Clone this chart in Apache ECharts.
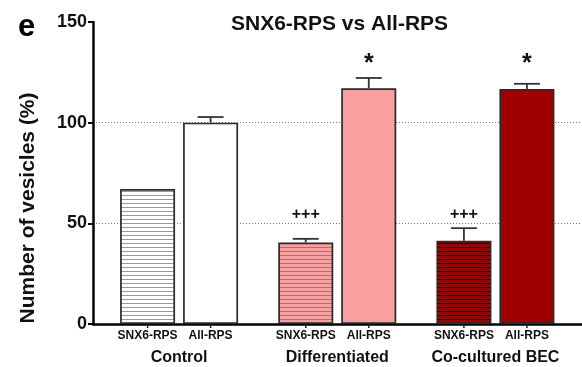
<!DOCTYPE html>
<html>
<head>
<meta charset="utf-8">
<script src="https://cdn.jsdelivr.net/npm/echarts@6/dist/echarts.min.js"></script>
<style>
  html, body { margin: 0; padding: 0; background: #fff; }
  #chart { width: 582px; height: 367px; }
</style>
</head>
<body>
<div id="chart"></div>
<script>
// ---- Data ----
const groups = ['Control', 'Differentiated', 'Co-cultured BEC'];
const seriesNames = ['SNX6-RPS', 'All-RPS'];
const snx6Values = [67.0, 40.5, 41.3];
const snx6Errors = [0, 1.8, 6.3];
const allValues = [100, 117.1, 116.7];
const allErrors = [2.8, 5.1, 2.6];
const snx6Marks = ['', '+++', '+++'];
const allMarks = ['', '*', '*'];
const yTicks = [0, 50, 100, 150];
const chartTitle = 'SNX6-RPS vs All-RPS';
const panelLabel = 'e';
const yAxisTitle = 'Number of vesicles (%)';

// ---- Styles ----
const FONT = 'Liberation Sans, Arial, sans-serif';
const BAR_W = 55;
const GAP_PX = 8;
const fills = ['#ffffff', '#f9a0a0', '#a00000'];
const hatchLines = ['#9a9a9a', '#b86a6a', '#3a0000'];
const borderCol = '#2a2a2a';

function hatch(fill, line) {
  const c = document.createElement('canvas');
  c.width = 8; c.height = 4;
  const ctx = c.getContext('2d');
  ctx.fillStyle = fill; ctx.fillRect(0, 0, 8, 4);
  ctx.fillStyle = line; ctx.fillRect(0, 3, 8, 1);
  return { image: c, repeat: 'repeat' };
}

const chart = echarts.init(document.getElementById('chart'), null, { renderer: 'canvas' });

const snx6Data = snx6Values.map((v, i) => ({
  value: v,
  itemStyle: { color: hatch(fills[i], hatchLines[i]), borderColor: borderCol, borderWidth: 1.7 }
}));
const allData = allValues.map((v, i) => ({
  value: v,
  itemStyle: { color: fills[i], borderColor: borderCol, borderWidth: 1.7 }
}));

const MARK_LEVEL = [54.2, 129.3];
function makeExtra(values, errors, marks, k) {
  return {
    type: 'custom',
    xAxisIndex: 1, yAxisIndex: 1,
    z: 5,
    silent: true,
    data: values.map((v, i) => [i, v, errors[i]]),
    renderItem: function (params, api) {
      const x = api.value(0), v = api.value(1), e = api.value(2);
      const off = (k === 0 ? -1 : 1) * (BAR_W + GAP_PX) / 2;
      const base = api.coord([x, v]);
      const cx = base[0] + off;
      const y0 = api.coord([x, 0])[1];
      const children = [];
      children.push({ type: 'line', shape: { x1: cx, y1: y0, x2: cx, y2: y0 + 4 },
        style: { stroke: '#222', lineWidth: 1.5 } });
      if (e > 0) {
        const top = api.coord([x, v + e])[1];
        children.push({ type: 'line', shape: { x1: cx, y1: base[1], x2: cx, y2: top },
          style: { stroke: '#333', lineWidth: 1.8 } });
        children.push({ type: 'line', shape: { x1: cx - 13, y1: top, x2: cx + 13, y2: top },
          style: { stroke: '#333', lineWidth: 1.8 } });
      }
      const m = marks[params.dataIndex];
      if (m) {
        const my = api.coord([x, MARK_LEVEL[k]])[1];
        children.push({ type: 'text', x: cx, y: my,
          style: { text: m, fill: '#111', align: 'center', verticalAlign: 'middle',
            font: k === 0 ? 'bold 16px ' + FONT : 'bold 25px ' + FONT } });
      }
      return { type: 'group', children: children };
    }
  };
}

const option = {
  animation: false,
  backgroundColor: '#fff',
  title: [
    { text: panelLabel, left: 13, top: 7,
      textStyle: { fontFamily: FONT, fontWeight: 'bold', fontSize: 31, color: '#000' } },
    { text: chartTitle, left: 226, top: 9,
      textStyle: { fontFamily: FONT, fontWeight: 'bold', fontSize: 21, color: '#111' } }
  ],
  grid: [
    { left: 93, right: 0, top: 22, bottom: 43 },
    { left: 100, right: 7.5, top: 22, bottom: 43 }
  ],
  xAxis: [
    { type: 'value', gridIndex: 0, min: 0, max: 1,
      axisLine: { show: true, lineStyle: { color: '#000', width: 2.5 } },
      axisTick: { show: false }, axisLabel: { show: false }, splitLine: { show: false } },
    { type: 'category', gridIndex: 1, data: groups,
      axisLine: { show: false }, axisTick: { show: false },
      axisLabel: { interval: 0, hideOverlap: false, margin: 26, fontFamily: FONT, fontWeight: 'bold', fontSize: 16, color: '#111' } }
  ],
  yAxis: [
    { type: 'value', gridIndex: 0, min: yTicks[0], max: yTicks[yTicks.length - 1],
      interval: yTicks[1] - yTicks[0],
      name: yAxisTitle, nameLocation: 'middle', nameGap: 54, nameRotate: 90,
      nameTextStyle: { fontFamily: FONT, fontWeight: 'bold', fontSize: 21, color: '#111', padding: [0, 70, 0, 0] },
      axisLine: { show: true, lineStyle: { color: '#000', width: 2.5 } },
      axisTick: { show: true, length: 5, lineStyle: { color: '#000', width: 2 } },
      axisLabel: { margin: 6, fontFamily: FONT, fontWeight: 'bold', fontSize: 18, color: '#111' },
      splitLine: { show: true, showMinLine: false, showMaxLine: false,
        lineStyle: { color: '#777', width: 1, type: [1, 2] } } },
    { type: 'value', gridIndex: 1, min: yTicks[0], max: yTicks[yTicks.length - 1],
      show: false, splitLine: { show: false } }
  ],
  series: [
    { type: 'bar', name: seriesNames[0], xAxisIndex: 1, yAxisIndex: 1, data: snx6Data,
      barWidth: BAR_W, barGap: (GAP_PX / BAR_W * 100) + '%', z: 3,
      label: { show: true, position: 'bottom', distance: 6, formatter: '{a}',
        fontFamily: FONT, fontWeight: 'bold', fontSize: 12, color: '#111' } },
    { type: 'bar', name: seriesNames[1], xAxisIndex: 1, yAxisIndex: 1, data: allData,
      barWidth: BAR_W, barGap: (GAP_PX / BAR_W * 100) + '%', z: 3,
      label: { show: true, position: 'bottom', distance: 6, formatter: '{a}',
        fontFamily: FONT, fontWeight: 'bold', fontSize: 12, color: '#111' } },
    makeExtra(snx6Values, snx6Errors, snx6Marks, 0),
    makeExtra(allValues, allErrors, allMarks, 1)
  ]
};
chart.setOption(option);
</script>
</body>
</html>
